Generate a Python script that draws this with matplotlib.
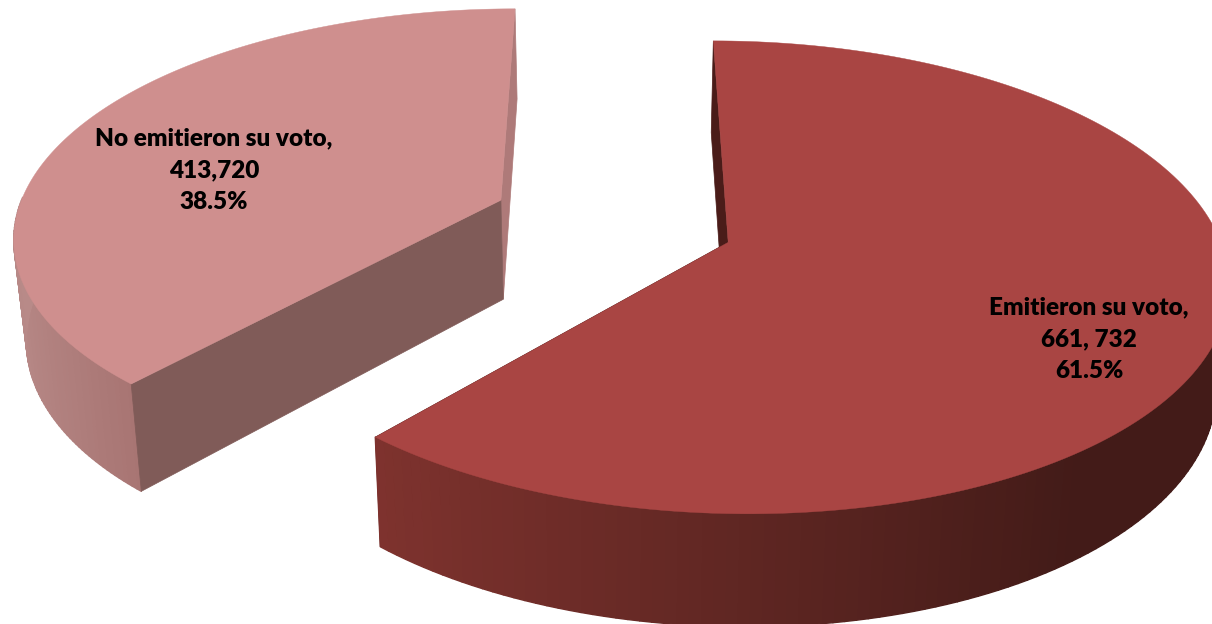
import numpy as np
import matplotlib
matplotlib.use("Agg")
import matplotlib.pyplot as plt
from matplotlib.collections import PolyCollection
from matplotlib.colors import to_rgb

# datos
labels = ["Emitieron su voto,\n661, 732\n61.5%", "No emitieron su voto,\n413,720\n38.5%"]
values = [661732, 413720]
top_colors = ["#A94543", "#CF8F8E"]
back_cut_colors = ["#4A1C19", "#AE7A79"]
front_cut_colors = ["#4A1C19", "#805B58"]
# color del borde segun el angulo (izquierda, centro-derecha)
rim_left = ["#8C3833", "#B88A88"]
rim_right = ["#431B18", "#A87573"]
label_xy = [(1089, 339), (214, 170)]

# parametros de la proyeccion (en pixeles)
X0, Y0 = 613, 221
A, B = 486, 225
K = 0.146
EXPLODE_X, EXPLODE_Y = 0.25, 0.264
DEPTH = 100
SHRINK = 0.979


def project(wx, wy):
    s = 1 / (1 + K * wy)
    return X0 + A * wx * s, Y0 - B * wy * s, s


def lower(px, py, s):
    return X0 + (px - X0) * SHRINK, py + DEPTH * s ** 0.7


def mix(c1, c2, t):
    c1, c2 = np.array(to_rgb(c1)), np.array(to_rgb(c2))
    return tuple(c1 + (c2 - c1) * t)


fig = plt.figure(figsize=(12.12, 6.24), dpi=100)
ax = fig.add_axes([0, 0, 1, 1])
ax.set_xlim(0, 1212)
ax.set_ylim(624, 0)
ax.axis("off")

fracs = np.array(values) / sum(values)
start = 0.0
for i, frac in enumerate(fracs):
    end = start + frac * 2 * np.pi
    mid = (start + end) / 2
    cx, cy = EXPLODE_X * np.sin(mid), EXPLODE_Y * np.cos(mid)
    th = np.linspace(start, end, 181)
    wx = cx + np.sin(th)
    wy = cy + np.cos(th)
    px, py, s = project(wx, wy)
    lx, ly = lower(px, py, s)
    ax_, ay_, as_ = project(cx, cy)
    alx, aly = lower(ax_, ay_, as_)

    # caras interiores: la del angulo 0 queda detras del resto
    k_back, k_front = (0, -1) if i == 0 else (-1, 0)
    ax.fill([px[k_back], lx[k_back], alx, ax_], [py[k_back], ly[k_back], aly, ay_],
            color=back_cut_colors[i], lw=0.5, zorder=2)

    # borde lateral con degradado (solo la parte de delante se ve)
    polys, cols = [], []
    for j in range(len(th) - 1):
        if wy[j] > cy:
            continue
        polys.append([(px[j], py[j]), (px[j + 1], py[j + 1]), (lx[j + 1], ly[j + 1]), (lx[j], ly[j])])
        t = np.clip((np.sin(th[j]) + 0.95) / 1.55, 0, 1) if i == 0 else np.clip((np.sin(th[j]) + 1) / 0.34, 0, 1)
        cols.append(mix(rim_left[i], rim_right[i], t))
    ax.add_collection(PolyCollection(polys, facecolors=cols, edgecolors=cols, linewidths=1.0, zorder=3))

    ax.fill([ax_, alx, lx[k_front], px[k_front]], [ay_, aly, ly[k_front], py[k_front]],
            color=front_cut_colors[i], lw=0.5, zorder=4 if i == 1 else 1)

    # cara superior
    ax.fill(np.r_[ax_, px], np.r_[ay_, py], color=top_colors[i], lw=0.3, zorder=5)

    ax.text(label_xy[i][0], label_xy[i][1], labels[i], ha="center", va="center",
            family=["Lato", "DejaVu Sans"], weight="heavy", fontsize=17.5, linespacing=1.55,
            color="black", zorder=6)
    start = end

fig.savefig("out.png", dpi=100)
